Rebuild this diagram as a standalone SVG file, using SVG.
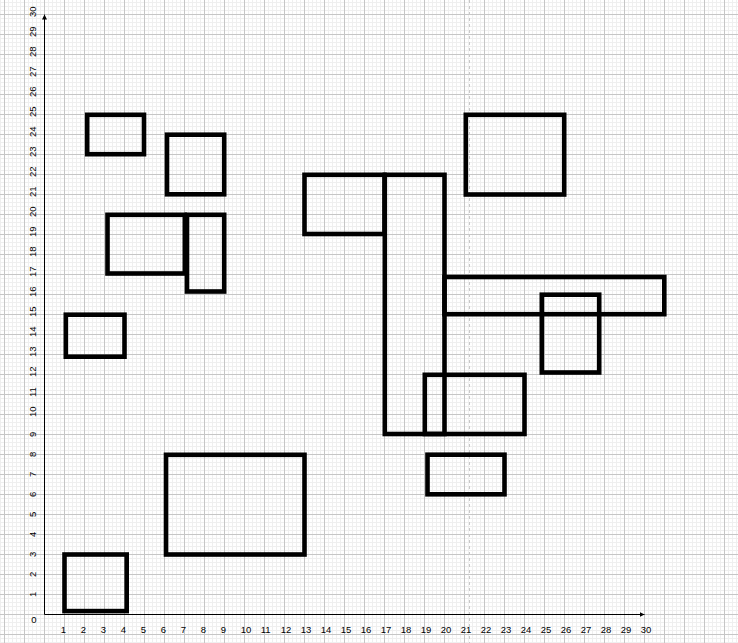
<svg xmlns="http://www.w3.org/2000/svg" width="738" height="643" viewBox="0 0 738 643">
  <style>
    .box { fill: none; stroke: #000; stroke-width: 4.6; stroke-linejoin: miter; }
    .axis { stroke: #000; stroke-width: 1; fill: none; }
    .lbl { font-family: "Liberation Sans", Arial, sans-serif; font-size: 9.5px; fill: #000; }
  </style>
  <defs>
    <pattern id="grid" width="20" height="20" patternUnits="userSpaceOnUse" x="4" y="14">
      <path d="M4.5 0V20M8.5 0V20M12.5 0V20M16.5 0V20M0 4.5H20M0 8.5H20M0 12.5H20M0 16.5H20" stroke="#efefef" stroke-width="1"/>
      <path d="M0.5 0V20M0 0.5H20" stroke="#c6c6c6" stroke-width="1"/>
    </pattern>
    <marker id="arr" viewBox="0 0 10 10" refX="10" refY="5" markerWidth="5" markerHeight="5" markerUnits="userSpaceOnUse" orient="auto">
      <path d="M0 0L10 5L0 10Z" fill="#000"/>
    </marker>
  </defs>
  <rect x="0" y="0" width="738" height="643" fill="#fff"/>
  <rect x="0" y="0" width="738" height="643" fill="url(#grid)"/>
  <line x1="469.5" y1="0" x2="469.5" y2="643" stroke="#c8c8c8" stroke-width="1" stroke-dasharray="3 3"/>

  <g id="axes">
    <line class="axis" x1="44.5" y1="614.5" x2="644.5" y2="614.5" marker-end="url(#arr)"/>
    <line class="axis" x1="44.5" y1="614.5" x2="44.5" y2="14.5" marker-end="url(#arr)"/>
  </g>

  <g id="x-labels" class="lbl">
    <text x="31.2" y="622.5">0</text>
    <text x="60.7" y="632.5">1</text>
    <text x="80.7" y="632.5">2</text>
    <text x="100.7" y="632.5">3</text>
    <text x="120.7" y="632.5">4</text>
    <text x="140.7" y="632.5">5</text>
    <text x="160.7" y="632.5">6</text>
    <text x="180.7" y="632.5">7</text>
    <text x="200.7" y="632.5">8</text>
    <text x="220.7" y="632.5">9</text>
    <text x="240.7" y="632.5">10</text>
    <text x="260.7" y="632.5">11</text>
    <text x="280.7" y="632.5">12</text>
    <text x="300.7" y="632.5">13</text>
    <text x="320.7" y="632.5">14</text>
    <text x="340.7" y="632.5">15</text>
    <text x="360.7" y="632.5">16</text>
    <text x="380.7" y="632.5">17</text>
    <text x="400.7" y="632.5">18</text>
    <text x="420.7" y="632.5">19</text>
    <text x="440.7" y="632.5">20</text>
    <text x="460.7" y="632.5">21</text>
    <text x="480.7" y="632.5">22</text>
    <text x="500.7" y="632.5">23</text>
    <text x="520.7" y="632.5">24</text>
    <text x="540.7" y="632.5">25</text>
    <text x="560.7" y="632.5">26</text>
    <text x="580.7" y="632.5">27</text>
    <text x="600.7" y="632.5">28</text>
    <text x="620.7" y="632.5">29</text>
    <text x="640.7" y="632.5">30</text>
  </g>

  <g id="y-labels" class="lbl">
    <text transform="translate(35.5 597) rotate(-90)">1</text>
    <text transform="translate(35.5 577) rotate(-90)">2</text>
    <text transform="translate(35.5 557) rotate(-90)">3</text>
    <text transform="translate(35.5 537) rotate(-90)">4</text>
    <text transform="translate(35.5 517) rotate(-90)">5</text>
    <text transform="translate(35.5 497) rotate(-90)">6</text>
    <text transform="translate(35.5 477) rotate(-90)">7</text>
    <text transform="translate(35.5 457) rotate(-90)">8</text>
    <text transform="translate(35.5 437) rotate(-90)">9</text>
    <text transform="translate(35.5 417) rotate(-90)">10</text>
    <text transform="translate(35.5 397) rotate(-90)">11</text>
    <text transform="translate(35.5 377) rotate(-90)">12</text>
    <text transform="translate(35.5 357) rotate(-90)">13</text>
    <text transform="translate(35.5 337) rotate(-90)">14</text>
    <text transform="translate(35.5 317) rotate(-90)">15</text>
    <text transform="translate(35.5 297) rotate(-90)">16</text>
    <text transform="translate(35.5 277) rotate(-90)">17</text>
    <text transform="translate(35.5 257) rotate(-90)">18</text>
    <text transform="translate(35.5 237) rotate(-90)">19</text>
    <text transform="translate(35.5 217) rotate(-90)">20</text>
    <text transform="translate(35.5 197) rotate(-90)">21</text>
    <text transform="translate(35.5 177) rotate(-90)">22</text>
    <text transform="translate(35.5 157) rotate(-90)">23</text>
    <text transform="translate(35.5 137) rotate(-90)">24</text>
    <text transform="translate(35.5 117) rotate(-90)">25</text>
    <text transform="translate(35.5 97) rotate(-90)">26</text>
    <text transform="translate(35.5 77) rotate(-90)">27</text>
    <text transform="translate(35.5 57) rotate(-90)">28</text>
    <text transform="translate(35.5 37) rotate(-90)">29</text>
    <text transform="translate(35.5 17) rotate(-90)">30</text>
  </g>

  <g id="r1"><rect class="box" x="64.5" y="554.5" width="62.2" height="56.6"/></g>
  <g id="r2"><rect class="box" x="65.8" y="314.7" width="58.7" height="42"/></g>
  <g id="r3"><rect class="box" x="87.2" y="114.8" width="56.8" height="39.4"/></g>
  <g id="r4"><rect class="box" x="167" y="134.7" width="57.2" height="59.6"/></g>
  <g id="r5"><rect class="box" x="107.5" y="214.8" width="77.3" height="58.7"/></g>
  <g id="r6"><rect class="box" x="187" y="214.8" width="37.2" height="76.7"/></g>
  <g id="r7"><rect class="box" x="166" y="454.8" width="138.5" height="99.7"/></g>
  <g id="r8"><rect class="box" x="304.5" y="174.8" width="80" height="59.2"/></g>
  <g id="r9"><rect class="box" x="384.8" y="174.8" width="59.7" height="259.2"/></g>
  <g id="r10"><rect class="box" x="465.8" y="114.8" width="98.4" height="79.7"/></g>
  <g id="r11"><rect class="box" x="444.5" y="277" width="219.8" height="37.2"/></g>
  <g id="r12"><rect class="box" x="541.8" y="294.7" width="57.4" height="77.8"/></g>
  <g id="r13"><rect class="box" x="424.8" y="374.8" width="99.7" height="59.2"/></g>
  <g id="r14"><rect class="box" x="427.5" y="454.7" width="77" height="39.6"/></g>
</svg>
